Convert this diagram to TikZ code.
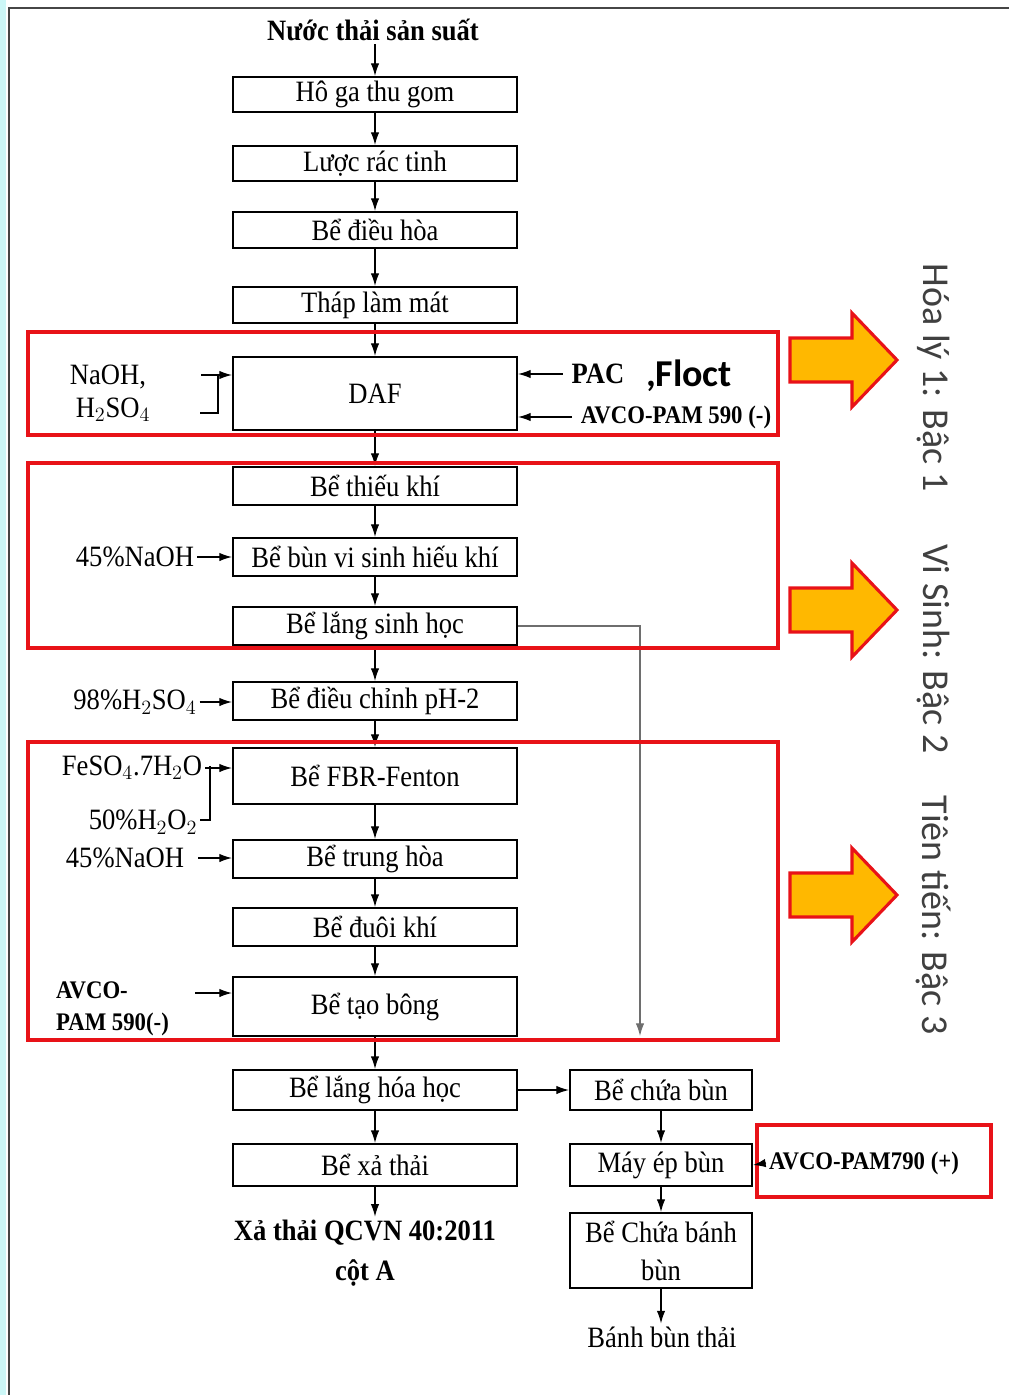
\documentclass[tikz,border=0pt]{standalone}
\usepackage{fontspec}
\setmainfont{Liberation Serif}[FakeStretch=0.9]
\newfontfamily\sansfont{Carlito}
\usetikzlibrary{arrows.meta, positioning, calc}
\definecolor{myred}{RGB}{232,18,24}
\definecolor{myorange}{RGB}{255,184,0}
\definecolor{mycyan}{RGB}{204,247,247}
\definecolor{myframe}{RGB}{70,70,70}
\definecolor{mygrayline}{RGB}{110,110,110}
\tikzset{
  tank/.style={rectangle, draw=black, line width=1.4pt,
    minimum width=7.1cm, minimum height=0.95cm, inner sep=0pt,
    font=\fontsize{21}{27}\selectfont, align=center},
  sludge/.style={tank, minimum width=4.55cm},
  chem/.style={inner sep=2pt, font=\fontsize{21}{24}\selectfont},
  boldchem/.style={inner sep=2pt, font=\fontsize{18}{23}\selectfont\bfseries},
  arrow/.style={-{Latex[length=9pt,width=6pt]}, line width=0.9pt},
  line/.style={line width=0.9pt},
  redframe/.style={draw=myred, line width=2.8pt},
  bigarrow/.style={draw=myred, fill=myorange, line width=2.2pt},
  stagelabel/.style={rotate=-90, font=\sansfont\fontsize{27}{30}\selectfont, text=black!75}
}
\begin{document}
\begin{tikzpicture}[x=0.025cm, y=-0.025cm]
  \useasboundingbox (0,0) rectangle (1009,1395);

  % page frame
  \fill[mycyan] (0,0) rectangle (6,1395);
  \draw[myframe, line width=2pt] (9,1395) -- (9,8) -- (1009,8);

  % main treatment line
  \node[inner sep=2pt, font=\fontsize{21}{24}\selectfont\bfseries] (input) at (373,30) {Nước thải sản suất};
  \node[tank, minimum height=0.875cm] (hoga) at (375,94.5) {Hô ga thu gom};
  \node[tank, minimum height=0.875cm] (luoc) at (375,163.5) {Lược rác tinh};
  \node[tank, minimum height=0.9cm] (dieuhoa) at (375,230) {Bể điều hòa};
  \node[tank, minimum height=0.9cm] (thap) at (375,305) {Tháp làm mát};
  \node[tank, minimum height=1.825cm] (daf) at (375,393.5) {DAF};
  \node[tank] (thieukhi) at (375,486) {Bể thiếu khí};
  \node[tank] (hieukhi) at (375,557) {Bể bùn vi sinh hiếu khí};
  \node[tank] (langsh) at (375,626) {Bể lắng sinh học};
  \node[tank] (ph) at (375,701) {Bể điều chỉnh pH-2};
  \node[tank, minimum height=1.4cm] (fenton) at (375,776) {Bể FBR-Fenton};
  \node[tank] (trunghoa) at (375,859) {Bể trung hòa};
  \node[tank] (duoikhi) at (375,927) {Bể đuôi khí};
  \node[tank, minimum height=1.475cm] (taobong) at (375,1006.5) {Bể tạo bông};
  \node[tank, minimum height=1.0cm] (langhh) at (375,1090) {Bể lắng hóa học};
  \node[tank, minimum height=1.05cm] (xathai) at (375,1165) {Bể xả thải};
  \node[inner sep=2pt, align=center, font=\fontsize{21}{28.5}\selectfont\bfseries] (output) at (365,1253) {Xả thải QCVN 40:2011\\cột A};

  \draw[arrow] (input.south -| hoga) -- (hoga);
  \draw[arrow] (hoga) -- (luoc);
  \draw[arrow] (luoc) -- (dieuhoa);
  \draw[arrow] (dieuhoa) -- (thap);
  \draw[arrow] (thap) -- (daf);
  \draw[arrow] (daf) -- (thieukhi);
  \draw[arrow] (thieukhi) -- (hieukhi);
  \draw[arrow] (hieukhi) -- (langsh);
  \draw[arrow] (langsh) -- (ph);
  \draw[arrow] (ph) -- (fenton);
  \draw[arrow] (fenton) -- (trunghoa);
  \draw[arrow] (trunghoa) -- (duoikhi);
  \draw[arrow] (duoikhi) -- (taobong);
  \draw[arrow] (taobong) -- (langhh);
  \draw[arrow] (langhh) -- (xathai);
  \draw[arrow] (xathai) -- (xathai |- output.north);

  % sludge line
  \node[sludge, minimum height=1.0cm] (chuabun) at (661,1090) {Bể chứa bùn};
  \node[sludge, minimum height=1.05cm] (mayep) at (661,1165) {Máy ép bùn};
  \node[sludge, minimum height=1.875cm] (banh) at (661,1250.5) {Bể Chứa bánh\\bùn};
  \node[chem] (banhthai) at (662,1337) {Bánh bùn thải};
  \draw[arrow] (langhh) -- (chuabun);
  \draw[arrow] (chuabun) -- (mayep);
  \draw[arrow] (mayep) -- (banh);
  \draw[arrow] (banh) -- (banh |- banhthai.north);

  % return from biological settling
  \coordinate (ret) at (640,1036);
  \draw[arrow, draw=mygrayline, line width=0.8pt] (langsh.east) -- (langsh.east -| ret) -- (ret);

  % chemicals, DAF
  \node[chem] (naoh) at (108,377) {NaOH,};
  \node[chem] (hso) at (113,410) {H$_2$SO$_4$};
  \coordinate (b0) at (201,375);
  \coordinate (b1) at (218,375);
  \coordinate (b2) at (218,413);
  \coordinate (b3) at (200,413);
  \draw[arrow] (b0) -- (b0 -| daf.west);
  \draw[line] (b1) -- (b2) -- (b3);
  \node[inner sep=2pt, font=\fontsize{21}{24}\selectfont\bfseries] (pac) at (598,374) {PAC};
  \node[inner sep=2pt, font=\sansfont\fontsize{27}{30}\selectfont\bfseries] (floct) at (689,376) {,Floct};
  \node[boldchem] (avcodaf) at (676,417) {AVCO-PAM 590 (-)};
  \draw[arrow, shorten <=4pt] (pac.west) -- (pac.west -| daf.east);
  \draw[arrow, shorten <=4pt] (avcodaf.west) -- (avcodaf.west -| daf.east);

  % chemicals, biological and advanced stages
  \node[chem] (naohA) at (135,557) {45\%NaOH};
  \draw[arrow] (naohA.east) -- (naohA.east -| hieukhi.west);
  \node[chem] (acid) at (135,702) {98\%H$_2$SO$_4$};
  \draw[arrow] (acid.east) -- (acid.east -| ph.west);
  \node[chem] (feso) at (132,768) {FeSO$_4$.7H$_2$O};
  \node[chem] (hhoo) at (143,822) {50\%H$_2$O$_2$};
  \coordinate (f1) at (210,766);
  \coordinate (f2) at (210,820);
  \coordinate (f3) at (200,820);
  \draw[arrow] (feso.east) -- (feso.east -| fenton.west);
  \draw[line] (f1) -- (f2) -- (f3);
  \node[chem] (naohB) at (125,858) {45\%NaOH};
  \draw[arrow, shorten <=8pt] (naohB.east) -- (naohB.east -| trunghoa.west);
  \node[boldchem, anchor=west, align=left, font=\fontsize{18}{22.8}\selectfont\bfseries] (avcotb) at (53,1009) {AVCO-\\PAM 590(-)};
  \coordinate (avcoin) at (195,993);
  \draw[arrow] (avcoin) -- (avcoin -| taobong.west);

  % press polymer
  \draw[redframe] (757,1125) rectangle (991,1197);
  \node[boldchem] (pam) at (864,1163) {AVCO-PAM790 (+)};
  \draw[arrow] (pam.west) -- (mayep.east);

  % stage frames
  \draw[redframe] (28,332) rectangle (778,435);
  \draw[redframe] (28,463) rectangle (778,648);
  \draw[redframe] (28,742) rectangle (778,1040);
  \foreach \yc in {360,610,895} {
    \draw[bigarrow] (790,\yc-22) -- (852,\yc-22) -- (852,\yc-47) -- (897,\yc)
      -- (852,\yc+47) -- (852,\yc+22) -- (790,\yc+22) -- cycle;
  }
  \node[stagelabel] (lvl1) at (933,378) {Hóa lý 1: Bậc 1};
  \node[stagelabel] (lvl2) at (933,649) {Vi Sinh: Bậc 2};
  \node[stagelabel] (lvl3) at (933,915) {Tiên tiến: Bậc 3};
\end{tikzpicture}
\end{document}
